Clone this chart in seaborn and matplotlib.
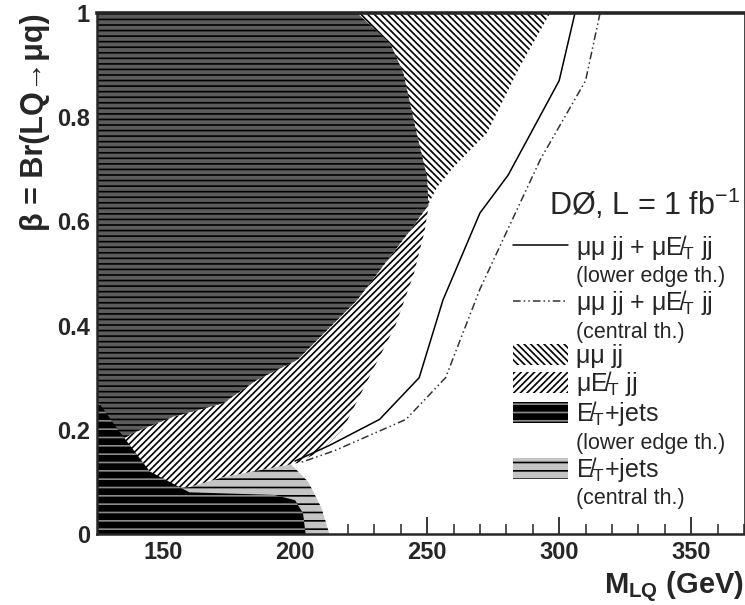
import numpy as np
import pandas as pd
import matplotlib
matplotlib.use("Agg")
import matplotlib.pyplot as plt
import seaborn as sns
from matplotlib.patches import Rectangle
from matplotlib.lines import Line2D
from matplotlib.ticker import MultipleLocator

# ---------------- data ----------------
# mu mu jj excluded region: right edge M(beta)
beta_mumu = [0.16, 0.167, 0.194, 0.225, 0.251, 0.296, 0.334, 0.449, 0.583, 0.628, 0.666, 0.704, 0.770, 0.896, 1.0]
m_mumu    = [125, 130, 138.6, 153.8, 172.7, 185.6, 200.8, 223.5, 243.6, 250, 253.8, 260, 272.7, 285, 296.6]

# mu MET jj excluded region: right edge M(beta)
beta_mue = [0.080, 0.084, 0.090, 0.109, 0.136, 0.16, 0.20, 0.30, 0.40, 0.50, 0.58, 0.628, 0.685, 0.770, 0.885, 0.942, 1.0]
m_mue    = [125, 144, 160, 172.7, 200.8, 210, 218, 228, 238, 245, 249, 250.5, 250, 246, 241, 236, 223.5]

# MET + jets (lower edge theory)
beta_nn_low = [0.0, 0.04, 0.065, 0.075, 0.08, 0.12, 0.2, 0.257]
m_nn_low    = [204, 203, 200, 192, 160, 145, 133, 125]

# MET + jets (central theory)
beta_nn_cen = [0.0, 0.05, 0.10, 0.136, 0.15, 0.17, 0.30]
m_nn_cen    = [213, 210, 205, 198, 180, 150, 125]

# combined limits
beta_comb_low = [1.0, 0.87, 0.689, 0.616, 0.449, 0.30, 0.22, 0.17, 0.14]
m_comb_low    = [306, 300, 280.7, 270, 256, 247, 232, 213, 200]
beta_comb_cen = [1.0, 0.87, 0.72, 0.47, 0.30, 0.22, 0.16, 0.137]
m_comb_cen    = [315.5, 310, 293, 270, 257, 242, 215, 202]

x_ticks = [150, 200, 250, 300, 350]
y_ticks = [0, 0.2, 0.4, 0.6, 0.8, 1]
y_tick_labels = ["0", "0.2", "0.4", "0.6", "0.8", "1"]
x_range = (125, 370)

# ---------------- style ----------------
sns.set_style("ticks")
plt.rcParams["font.family"] = ["Liberation Sans", "DejaVu Sans"]
plt.rcParams["hatch.linewidth"] = 1.2
plt.rcParams["mathtext.fontset"] = "custom"
plt.rcParams["mathtext.rm"] = "Liberation Sans"
plt.rcParams["mathtext.it"] = "Liberation Sans"
plt.rcParams["mathtext.bf"] = "Liberation Sans:bold"

fig = plt.figure(figsize=(7.45, 6.05), dpi=100)
ax = fig.add_axes([97 / 745, 1 - 534 / 605, (744 - 97) / 745, (534 - 13) / 605])

xmin = x_range[0]
grid = np.linspace(0, 1, 401)
mumu_g = np.interp(grid, beta_mumu, m_mumu, left=np.nan)
mue_g = np.interp(grid, beta_mue, m_mue, left=np.nan)
over_g = np.fmin(np.nan_to_num(mumu_g, nan=xmin), np.nan_to_num(mue_g, nan=xmin))

# E_T + jets central (grey)
h_nn_cen = ax.fill_betweenx(beta_nn_cen, xmin, m_nn_cen, facecolor="#c4c4c4",
                            edgecolor="black", hatch="--", linewidth=0, zorder=1)
# mu MET jj
h_mue = ax.fill_betweenx(beta_mue, xmin, m_mue, facecolor="white",
                         edgecolor="black", hatch="/////", linewidth=0, zorder=2)
# mu mu jj
h_mumu = ax.fill_betweenx(beta_mumu, xmin, m_mumu, facecolor="white",
                          edgecolor="black", hatch="\\\\\\\\\\", linewidth=0, zorder=3)
# overlap (both channels)
ax.fill_betweenx(grid, xmin, over_g, facecolor="#5c5c5c", edgecolor="black",
                 hatch="---", linewidth=0, zorder=4)
# E_T + jets lower edge (black)
h_nn_low = ax.fill_betweenx(beta_nn_low, xmin, m_nn_low, facecolor="black",
                            edgecolor="#8a8a8a", hatch="--", linewidth=0, zorder=5)

sns.lineplot(x=m_comb_low, y=beta_comb_low, sort=False, estimator=None, ax=ax,
             color="black", lw=1.1, zorder=6)
sns.lineplot(x=m_comb_cen, y=beta_comb_cen, sort=False, estimator=None, ax=ax,
             color="#333333", lw=1.1, linestyle=(0, (5, 2, 1, 2, 1, 2)), zorder=6)

ax.set_xlim(*x_range)
ax.set_ylim(0, 1)
ax.set_xticks(x_ticks)
ax.xaxis.set_minor_locator(MultipleLocator(10))
ax.set_yticks(y_ticks)
ax.set_yticklabels(y_tick_labels)
ax.yaxis.set_minor_locator(MultipleLocator(0.05))
ax.tick_params(axis="both", which="major", direction="in", length=12, width=1.3,
               labelsize=17, top=False, right=False, pad=5)
ax.tick_params(axis="both", which="minor", direction="in", length=7, width=1.1,
               top=False, right=False)
for lab in ax.get_xticklabels() + ax.get_yticklabels():
    lab.set_fontweight("bold")
for side in ["left", "bottom"]:
    ax.spines[side].set_linewidth(1.8)
ax.spines["top"].set_linewidth(2.6)
ax.spines["right"].set_linewidth(0.6)
for s in ax.spines.values():
    s.set_visible(True)
    s.set_zorder(10)

ax.set_xlabel(r"M$_{\mathbf{LQ}}$ (GeV)", fontsize=21, loc="right", fontweight="bold")
ax.set_ylabel(r"β = Br(LQ→μq)", fontsize=22, loc="top", fontweight="bold")
ax.yaxis.set_label_coords(-0.072, 1.0)
ax.xaxis.set_label_coords(1.0, -0.068)

blank = Rectangle((0, 0), 1, 1, fill=False, edgecolor="none", visible=False)
handles = [
    Line2D([], [], color="black", lw=1.1),
    blank,
    Line2D([], [], color="#333333", lw=1.1, linestyle=(0, (5, 2, 1, 2, 1, 2))),
    blank,
    h_mumu, h_mue, h_nn_low, blank, h_nn_cen, blank,
]
met = "E\u0338$_T$"
labels = [
    f"μμ jj + μ{met} jj", "(lower edge th.)",
    f"μμ jj + μ{met} jj", "(central th.)",
    "μμ jj", f"μ{met} jj", f"{met}+jets", "(lower edge th.)",
    f"{met}+jets", "(central th.)",
]
leg = ax.legend(handles, labels, loc="upper left", bbox_to_anchor=(0.643, 0.578),
                frameon=False, fontsize=18, handlelength=2.2, handleheight=0.9,
                labelspacing=0.05, handletextpad=0.3, borderaxespad=0.0, borderpad=0.0)
for i, t in enumerate(leg.get_texts()):
    if labels[i].startswith("("):
        t.set_fontsize(15.5)
leg.set_zorder(12)
ax.text(0.994, 0.633, r"DØ, L = 1 fb$^{-1}$", transform=ax.transAxes,
        ha="right", va="center", fontsize=22, zorder=12)

fig.savefig("out.png", dpi=100)
